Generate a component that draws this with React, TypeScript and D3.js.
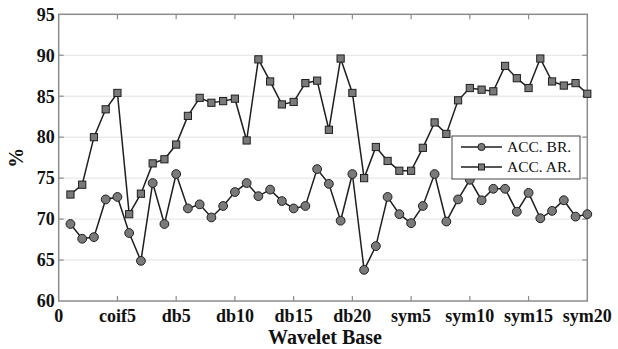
import React from "react";
import * as d3 from "d3";

const tickIndex = [0, 5, 10, 15, 20, 25, 30, 35, 40, 45];
const tickLabels = ["0", "coif5", "db5", "db10", "db15", "db20", "sym5", "sym10", "sym15", "sym20"];
const yTicks = [60, 65, 70, 75, 80, 85, 90, 95];

const accBR = [
  69.4, 67.6, 67.8, 72.4, 72.7, 68.3, 64.9, 74.4, 69.4, 75.5,
  71.3, 71.8, 70.2, 71.6, 73.3, 74.4, 72.8, 73.6, 72.2, 71.3,
  71.6, 76.1, 74.3, 69.8, 75.5, 63.8, 66.7, 72.7, 70.6, 69.5,
  71.6, 75.5, 69.7, 72.4, 74.8, 72.3, 73.7, 73.7, 70.9, 73.2,
  70.1, 71.0, 72.3, 70.3, 70.6,
];
const accAR = [
  73.0, 74.2, 80.0, 83.4, 85.4, 70.6, 73.1, 76.8, 77.3, 79.1,
  82.6, 84.8, 84.2, 84.4, 84.7, 79.6, 89.5, 86.8, 84.0, 84.3,
  86.6, 86.9, 80.9, 89.6, 85.4, 75.0, 78.8, 77.1, 75.9, 75.9,
  78.7, 81.8, 80.4, 84.5, 86.0, 85.8, 85.6, 88.7, 87.2, 86.0,
  89.6, 86.8, 86.3, 86.6, 85.3,
];

const W = 618, H = 349;
const L = 58.7, R = 587.3, T = 14.3, B = 301;
const serif = "Liberation Serif, Times New Roman, Times, DejaVu Serif, serif";

export default function App() {
  const x = d3.scaleLinear().domain([0, 45]).range([L, R]);
  const y = d3.scaleLinear().domain([60, 95]).range([B, T]);
  const line = d3.line<number>().x((_, i) => x(i + 1)).y((d) => y(d));
  const markFill = "#7a7a7a";
  const ink = "#1e1e1e";
  const frame = "#8c8c8c";
  const bold = { fontFamily: serif, fontWeight: 700 as const };
  return (
    <svg width={W} height={H} style={{ position: "absolute", left: 0, top: 0, background: "#fff" }}>
      {yTicks.slice(1, -1).map((t) => (
        <line key={"g" + t} x1={L} x2={R} y1={y(t)} y2={y(t)} stroke="#e2e2e2" strokeWidth={1} />
      ))}
      <rect x={L} y={T} width={R - L} height={B - T} fill="none" stroke={frame} strokeWidth={1.5} />
      {tickIndex.slice(1, -1).map((t) => (
        <g key={"xt" + t}>
          <line x1={x(t)} x2={x(t)} y1={B} y2={B - 5} stroke={frame} strokeWidth={1.2} />
          <line x1={x(t)} x2={x(t)} y1={T} y2={T + 5} stroke={frame} strokeWidth={1.2} />
        </g>
      ))}
      {yTicks.slice(1, -1).map((t) => (
        <g key={"yt" + t}>
          <line x1={L} x2={L + 5} y1={y(t)} y2={y(t)} stroke={frame} strokeWidth={1.2} />
          <line x1={R} x2={R - 5} y1={y(t)} y2={y(t)} stroke={frame} strokeWidth={1.2} />
        </g>
      ))}
      {yTicks.map((t) => (
        <text key={"yl" + t} x={L - 4} y={y(t)} dy="0.35em" textAnchor="end" style={{ ...bold, fontSize: 18 }} fill="#111">
          {t}
        </text>
      ))}
      {tickIndex.map((t, i) => (
        <text key={"xl" + t} x={x(t)} y={322} textAnchor="middle" style={{ ...bold, fontSize: 18 }} fill="#111">
          {tickLabels[i]}
        </text>
      ))}
      <text x={(L + R) / 2 + 2} y={344} textAnchor="middle" style={{ ...bold, fontSize: 20 }} fill="#111">
        Wavelet Base
      </text>
      <text transform={`translate(23,${(T + B) / 2}) rotate(-90)`} textAnchor="middle" style={{ ...bold, fontSize: 20 }} fill="#111">
        %
      </text>

      <path d={line(accAR) || ""} fill="none" stroke={ink} strokeWidth={1.5} />
      <path d={line(accBR) || ""} fill="none" stroke={ink} strokeWidth={1.5} />
      {accAR.map((v, i) => (
        <rect key={"s" + i} x={x(i + 1) - 3.6} y={y(v) - 3.6} width={7.2} height={7.2} fill={markFill} stroke={ink} strokeWidth={1} />
      ))}
      {accBR.map((v, i) => (
        <circle key={"c" + i} cx={x(i + 1)} cy={y(v)} r={4.4} fill={markFill} stroke={ink} strokeWidth={1} />
      ))}

      <rect x={452} y={136} width={128} height={43} fill="#fff" stroke="#444" strokeWidth={1} />
      <line x1={461} x2={502} y1={147} y2={147} stroke={ink} strokeWidth={1.5} />
      <circle cx={481.5} cy={147} r={3.6} fill={markFill} stroke={ink} strokeWidth={1} />
      <text x={507} y={147} dy="0.35em" style={{ fontFamily: serif, fontSize: 15.5 }} fill="#111">ACC. BR.</text>
      <line x1={461} x2={502} y1={167} y2={167} stroke={ink} strokeWidth={1.5} />
      <rect x={478.5} y={164} width={6} height={6} fill={markFill} stroke={ink} strokeWidth={1} />
      <text x={507} y={167} dy="0.35em" style={{ fontFamily: serif, fontSize: 15.5 }} fill="#111">ACC. AR.</text>
    </svg>
  );
}
